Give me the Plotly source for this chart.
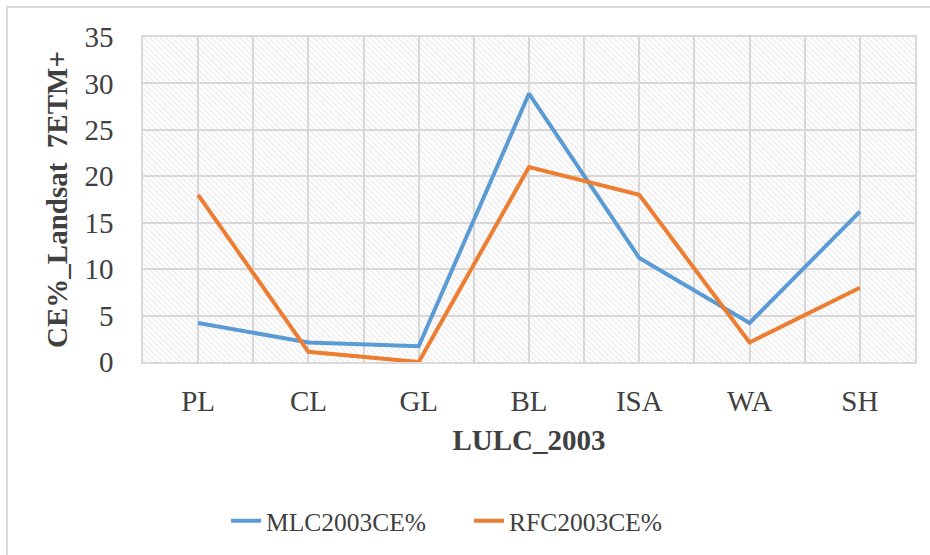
import plotly.graph_objects as go

# Land-use / land-cover classes
categories = ["PL", "CL", "GL", "BL", "ISA", "WA", "SH"]

# Commission error (%) per class, 2003
mlc_2003_ce = [4.2, 2.1, 1.7, 28.9, 11.2, 4.2, 16.2]
rfc_2003_ce = [18.0, 1.1, 0.0, 21.0, 18.0, 2.1, 8.0]

y_ticks = [0, 5, 10, 15, 20, 25, 30, 35]

FONT = "Liberation Serif"
TXT = "#404040"
GRID = "#d9d9d9"

x_idx = list(range(len(categories)))
x_lo, x_hi = -0.5, len(categories) - 0.5
y_lo, y_hi = y_ticks[0], y_ticks[-1]

fig = go.Figure()

# hatched plot-area background
fig.add_trace(go.Scatter(
    x=[x_lo, x_hi, x_hi, x_lo, x_lo],
    y=[y_lo, y_lo, y_hi, y_hi, y_lo],
    mode="lines", line=dict(width=0),
    fill="toself", fillcolor="rgba(0,0,0,0)",
    fillpattern=dict(shape="\\", size=4, solidity=0.28,
                     fgcolor="#cdcdcd", bgcolor="rgba(0,0,0,0)"),
    hoverinfo="skip", showlegend=False,
))

fig.add_trace(go.Scatter(
    x=x_idx, y=mlc_2003_ce, mode="lines", name="MLC2003CE%",
    line=dict(color="#5B9BD5", width=4),
))
fig.add_trace(go.Scatter(
    x=x_idx, y=rfc_2003_ce, mode="lines", name="RFC2003CE%",
    line=dict(color="#ED7D31", width=4),
))

fig.update_layout(
    width=930, height=555,
    margin=dict(l=143, r=15, t=37, b=192),
    paper_bgcolor="white", plot_bgcolor="white",
    font=dict(family=FONT, color=TXT, size=28),
    legend=dict(orientation="h", x=(226 - 143) / 772, xanchor="left",
                y=-0.485, yanchor="middle",
                entrywidth=198, entrywidthmode="pixels",
                font=dict(size=25.5, family=FONT, color=TXT),
                traceorder="normal"),
    xaxis=dict(
        range=[x_lo, x_hi], tickmode="array", tickvals=x_idx, ticktext=categories,
        showgrid=True, gridcolor=GRID, gridwidth=1.5,
        minor=dict(tickmode="array", tickvals=[i - 0.5 for i in range(len(categories) + 1)],
                   showgrid=True, gridcolor=GRID, gridwidth=1.5, ticks=""),
        showline=True, linecolor=GRID, linewidth=1.5, mirror=True,
        zeroline=False, ticks="", ticklabelstandoff=12,
        tickfont=dict(size=29, family=FONT, color=TXT),
        title=dict(text="<b>LULC_2003</b>", standoff=14,
                   font=dict(size=29, family=FONT, color=TXT)),
    ),
    yaxis=dict(
        range=[y_lo, y_hi], tickmode="array", tickvals=y_ticks,
        showgrid=True, gridcolor=GRID, gridwidth=1.5,
        showline=True, linecolor=GRID, linewidth=1.5, mirror=True,
        zeroline=False, ticks="", ticklabelstandoff=22,
        tickfont=dict(size=29, family=FONT, color=TXT),
        title=dict(text="<b>CE%_Landsat \u00a07ETM+</b>", standoff=8,
                   font=dict(size=29, family=FONT, color=TXT)),
    ),
    shapes=[dict(type="rect", xref="paper", yref="paper",
                 x0=(7 - 143) / 772, x1=1.2, y0=-0.8, y1=(363 - 7) / 326,
                 line=dict(color="#d9d9d9", width=2), layer="below")],
)

fig.write_html("out.html")
